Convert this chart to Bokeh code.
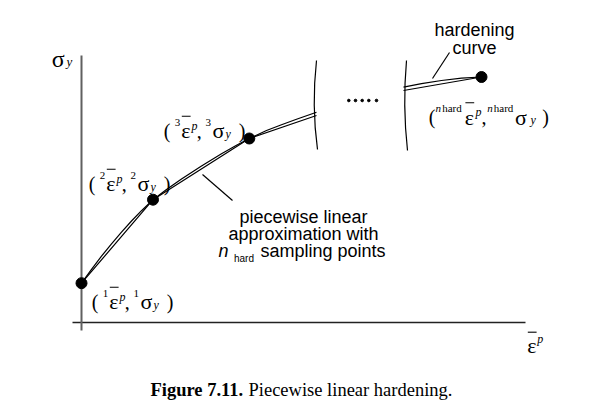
from bokeh.plotting import figure
from bokeh.models import Range1d
from bokeh.core.properties import value
from bokeh.embed import file_html
from bokeh.resources import INLINE

# ---------------- data (diagram units) ----------------
# sampling points (eps_p, sigma_y)
sample_eps = [0.0, 71.5, 167.8, 400.0]
sample_sig = [39.3, 122.8, 184.0, 245.5]

# piecewise linear approximation (parts visible left / right of the axis break)
lin_eps_a = [0.0, 71.5, 167.8, 235.0]
lin_sig_a = [39.3, 122.8, 184.0, 207.0]
lin_eps_b = [322.0, 400.0]
lin_sig_b = [232.0, 245.5]

# hardening curve
curve_eps_a = [0, 10, 20, 30, 40, 50, 60, 71.5, 85, 100, 120, 140, 155, 167.8, 185, 200, 215, 235]
curve_sig_a = [39.3, 53.2, 66.3, 78.7, 90.4, 101.5, 111.8, 122.8, 132.9, 143.4, 156.6, 168.8,
               177.3, 184.0, 192.0, 197.8, 203.2, 210.3]
curve_eps_b = [322, 340, 360, 380, 400]
curve_sig_b = [235.3, 238.8, 242.0, 244.3, 245.5]

# axis-break marks and the "....." in the gap
break_eps = [235.0, 325.0]
break_ctrl_eps = [230.0, 321.0]
break_bot_eps = [236.0, 326.0]
break_top_sig = [262.0, 262.0]
break_mid_sig = [217.0, 217.0]
break_bot_sig = [173.0, 172.0]
gap_eps = [267.3, 274.0, 280.7, 287.3, 295.0]
gap_sig = [222.0, 222.0, 222.0, 222.0, 222.0]

# axes extent
x_axis_eps = [-9.0, 444.0]
y_axis_sig = [-8.0, 267.0]

# sample labels: superscript index and label anchor (left, baseline)
label_idx = ["1", "2", "3"]
label_x = [10.3, 7.3, 82.3]
label_y = [21.0, 139.0, 192.0]

# ---------------- figure ----------------
p = figure(width=592, height=404, output_backend="svg", toolbar_location=None,
           x_range=Range1d(-81, 511), y_range=Range1d(-82, 322),
           x_axis_type=None, y_axis_type=None, min_border=0)
p.grid.visible = False
p.outline_line_color = None
p.background_fill_color = "white"

# axes
p.line(x=x_axis_eps, y=[0, 0], line_color="#222222", line_width=1.4)
p.line(x=[0, 0], y=y_axis_sig, line_color="#606060", line_width=2)

# curve + linear approximation
p.line(x=curve_eps_a, y=curve_sig_a, line_color="black", line_width=1.2)
p.line(x=curve_eps_b, y=curve_sig_b, line_color="black", line_width=1.2)
p.line(x=lin_eps_a, y=lin_sig_a, line_color="black", line_width=1.2)
p.line(x=lin_eps_b, y=lin_sig_b, line_color="black", line_width=1.2)

# break marks
p.quadratic(x0=break_eps, y0=break_top_sig, x1=break_bot_eps, y1=break_bot_sig,
            cx=break_ctrl_eps, cy=break_mid_sig, line_color="black", line_width=1.2)
p.scatter(x=gap_eps, y=gap_sig, size=2.6, color="black")

# sample points
p.scatter(x=sample_eps, y=sample_sig, size=11, color="black")

# leader lines
p.segment(x0=[121, 351], y0=[148, 244], x1=[151, 368], y1=[122, 270],
          line_color="black", line_width=1.2)


def txt(x, y, s, size, font="Liberation Sans", style="normal", align="left"):
    p.text(x=[x], y=[y], text=[s], text_font=value(font),
           text_font_size=value(f"{size}px"), text_font_style=value(style),
           text_align=value(align), text_baseline=value("alphabetic"),
           text_color="black")


SERIF = "Liberation Serif"
GREEK = 22

bar_x0, bar_x1, bar_y0 = [], [], []


def eps_bar(x, y, size=GREEK, rise=14.3):
    # epsilon with an over-bar (bar collected and drawn as one segment glyph)
    txt(x, y, "ε", size, SERIF)
    bar_x0.append(x + 0.6)
    bar_x1.append(x + 9.4)
    bar_y0.append(y + rise)


def math_label(x0, y0, pieces):
    for s, dx, dy, size, style in pieces:
        if s == "EPS":
            eps_bar(x0 + dx, y0 + dy)
        else:
            txt(x0 + dx, y0 + dy, s, size, SERIF, style)


for k, lx, ly in zip(label_idx, label_x, label_y):
    math_label(lx, ly, [
        ("(", 0, 0, 20, "normal"),
        (k, 11.0, 8, 11, "normal"),
        ("EPS", 17.4, 0, GREEK, "normal"),
        ("p", 27.6, 5, 12, "italic"),
        (",", 33, 0, 20, "normal"),
        (k, 41.7, 8, 11, "normal"),
        ("σ", 48.6, 0, GREEK, "normal"),
        ("y", 61.7, -3, 12, "italic"),
        (")", 75, 0, 20, "normal"),
    ])

math_label(347.3, 205.5, [
    ("(", 0, 0, 20, "normal"),
    ("n", 6.7, 9, 11, "italic"),
    ("hard", 13.4, 9, 11, "normal"),
    ("EPS", 36, 0, GREEK, "normal"),
    ("p", 46.7, 5, 12, "italic"),
    (",", 52.7, 0, 20, "normal"),
    ("n", 58.4, 9, 11, "italic"),
    ("hard", 65, 9, 11, "normal"),
    ("σ", 86.2, 0, GREEK, "normal"),
    ("y", 101.7, -3, 12, "italic"),
    (")", 113.4, 0, 20, "normal"),
])

# axis labels
eps_bar(445.7, -23, rise=13.3)
txt(455.7, -16, "p", 12, SERIF, "italic")
txt(-29.8, 264, "σ", 24, SERIF)
txt(-15, 261.5, "y", 13, SERIF, "italic")

# over-bars of the epsilons
p.segment(x0=bar_x0, y0=bar_y0, x1=bar_x1, y1=bar_y0, line_color="black", line_width=1.1)

# annotations
txt(393, 292.7, "hardening", 18, align="center")
txt(393, 274.3, "curve", 18, align="center")
txt(222, 105.3, "piecewise linear", 18, align="center")
txt(222, 88.5, "approximation with", 18, align="center")
txt(137, 72, "n", 18, style="italic")
txt(152.5, 64, "hard", 10)
txt(179, 72, "sampling points", 18)

# caption
txt(69, -67, "Figure 7.11.", 18.5, SERIF, "bold")
txt(167, -67, "Piecewise linear hardening.", 18.5, SERIF)

open("out.html", "w").write(file_html(p, INLINE))
